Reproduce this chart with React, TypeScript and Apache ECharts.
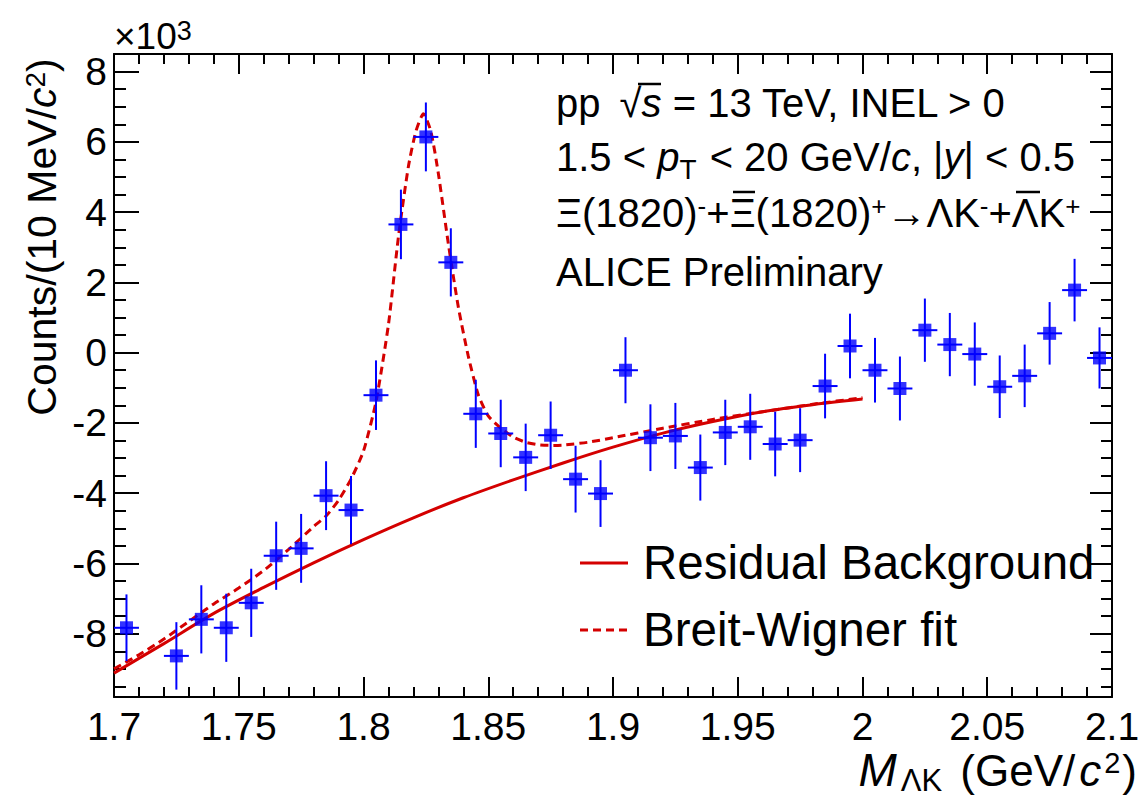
import React, { useEffect, useRef } from "react";
import * as echarts from "echarts";

// ---- data ----
const binCenters = [
  1.705, 1.725, 1.735, 1.745, 1.755, 1.765, 1.775, 1.785, 1.795, 1.805,
  1.815, 1.825, 1.835, 1.845, 1.855, 1.865, 1.875, 1.885, 1.895, 1.905,
  1.915, 1.925, 1.935, 1.945, 1.955, 1.965, 1.975, 1.985, 1.995, 2.005,
  2.015, 2.025, 2.035, 2.045, 2.055, 2.065, 2.075, 2.085, 2.095,
];
const counts = [
  -7.83, -8.63, -7.59, -7.83, -7.12, -5.78, -5.57, -4.07, -4.48, -1.21,
  3.65, 6.14, 2.57, -1.74, -2.3, -2.98, -2.35, -3.6, -4.01, -0.5,
  -2.42, -2.37, -3.27, -2.27, -2.11, -2.6, -2.49, -0.95, 0.19, -0.5,
  -1.02, 0.64, 0.23, -0.04, -0.97, -0.66, 0.55, 1.78, -0.15,
];
const countErrors = [
  0.95, 0.96, 0.97, 0.97, 0.97, 0.97, 0.98, 0.98, 0.97, 0.99,
  0.99, 0.98, 0.97, 0.97, 0.96, 0.96, 0.96, 0.95, 0.95, 0.94,
  0.95, 0.94, 0.94, 0.93, 0.94, 0.92, 0.91, 0.92, 0.92, 0.92,
  0.91, 0.9, 0.9, 0.9, 0.89, 0.89, 0.89, 0.89, 0.87,
];
const binHalfWidth = 0.005;

const bgX = [1.7, 1.72, 1.74, 1.76, 1.78, 1.8, 1.82, 1.84, 1.86, 1.88, 1.9, 1.92, 1.94, 1.96, 1.98, 2.0];
const bgY = [-9.12, -8.28, -7.42, -6.68, -5.98, -5.32, -4.7, -4.13, -3.62, -3.14, -2.69, -2.29, -1.96, -1.68, -1.48, -1.32];

const bwX = [
  1.7, 1.71, 1.72, 1.73, 1.74, 1.75, 1.76, 1.77, 1.78, 1.785, 1.79, 1.795, 1.8,
  1.805, 1.81, 1.814, 1.818, 1.821, 1.824, 1.827, 1.83, 1.834, 1.838, 1.842,
  1.846, 1.85, 1.855, 1.86, 1.865, 1.87, 1.875, 1.88, 1.89, 1.9, 1.92, 1.94,
  1.96, 1.98, 2.0,
];
const bwY = [
  -9.0, -8.6, -8.15, -7.65, -7.15, -6.7, -6.2, -5.6, -4.95, -4.65, -4.2, -3.6, -2.8,
  -1.4, 0.8, 3.3, 5.3, 6.3, 6.8, 6.3, 5.1, 3.1, 1.3, -0.1,
  -1.2, -1.8, -2.15, -2.4, -2.55, -2.62, -2.64, -2.63, -2.55, -2.42, -2.15, -1.9,
  -1.68, -1.47, -1.28,
];

const yMajorTicks = [-8, -6, -4, -2, 0, 2, 4, 6, 8];
const yMinorTicks = [
  -9.5, -9, -8.5, -7.5, -7, -6.5, -5.5, -5, -4.5, -3.5, -3, -2.5, -1.5, -1, -0.5,
  0.5, 1, 1.5, 2.5, 3, 3.5, 4.5, 5, 5.5, 6.5, 7, 7.5, 8.5,
];
const xMin = 1.7;
const xMax = 2.1;
const xStep = 0.05;
const yMin = -9.8;
const yMax = 8.5;

const FONT = "'Liberation Sans', Arial, Helvetica, sans-serif";
const RED = "#d40000";
const BLUE = "#0000ff";

export default function App() {
  const ref = useRef<HTMLDivElement>(null);
  useEffect(() => {
    document.body.style.margin = "0";
    const chart = echarts.init(ref.current!, null, { renderer: "svg" });
    const axisLine = { show: true, onZero: false, lineStyle: { color: "#000", width: 2 } };
    const yAxisBase = (pos: string, ticks: number[], len: number, labels: boolean, line: boolean) => ({
      type: "value",
      position: pos,
      min: yMin,
      max: yMax,
      axisLine: line ? axisLine : { show: false, onZero: false },
      splitLine: { show: false },
      axisTick: { show: true, inside: true, length: len, customValues: ticks, lineStyle: { color: "#000", width: 2 } },
      axisLabel: labels
        ? { show: true, customValues: yMajorTicks, fontSize: 39, fontFamily: FONT, color: "#000", margin: 7 }
        : { show: false },
    });
    const xAxisBase = (pos: string, labels: boolean) => ({
      type: "value",
      position: pos,
      min: xMin,
      max: xMax,
      interval: xStep,
      axisLine,
      splitLine: { show: false },
      axisTick: { show: true, inside: true, length: 20, lineStyle: { color: "#000", width: 2 } },
      minorTick: { show: true, splitNumber: 5, length: 10, lineStyle: { color: "#000", width: 2 } },
      minorSplitLine: { show: false },
      axisLabel: labels
        ? { show: true, fontSize: 39, fontFamily: FONT, color: "#000", margin: 10, showMinLabel: true, showMaxLabel: true }
        : { show: false },
    });
    const points = binCenters.map((x, i) => [x, counts[i]]);
    const errs = binCenters.map((x, i) => [x, counts[i], countErrors[i]]);
    const T = 40; // annotation font size
    const bar = (x1: number, x2: number, y: number) => ({
      type: "line",
      shape: { x1, y1: y, x2, y2: y },
      style: { stroke: "#000", lineWidth: 2.5 },
    });
    chart.setOption({
      animation: false,
      grid: { left: 114, top: 54, width: 998, height: 643, containLabel: false },
      xAxis: [xAxisBase("bottom", true), xAxisBase("top", false)],
      yAxis: [
        yAxisBase("left", yMajorTicks, 25, true, true),
        yAxisBase("right", yMajorTicks, 22, false, true),
        yAxisBase("left", yMinorTicks, 12, false, false),
        yAxisBase("right", yMinorTicks, 11, false, false),
      ],
      series: [
        {
          type: "line",
          name: "Residual Background",
          data: bgX.map((x, i) => [x, bgY[i]]),
          showSymbol: false,
          smooth: 0.3,
          lineStyle: { color: RED, width: 3 },
          z: 3,
        },
        {
          type: "line",
          name: "Breit-Wigner fit",
          data: bwX.map((x, i) => [x, bwY[i]]),
          showSymbol: false,
          smooth: 0.2,
          lineStyle: { color: RED, width: 3, type: [8, 5] },
          z: 3,
        },
        {
          type: "custom",
          name: "errors",
          data: errs,
          encode: { x: 0, y: 1 },
          z: 4,
          renderItem: (params: any, api: any) => {
            const x = api.value(0);
            const y = api.value(1);
            const e = api.value(2);
            const lo = api.coord([x, y - e]);
            const hi = api.coord([x, y + e]);
            const l = api.coord([x - binHalfWidth, y]);
            const r = api.coord([x + binHalfWidth, y]);
            return {
              type: "group",
              children: [
                { type: "line", shape: { x1: lo[0], y1: lo[1], x2: hi[0], y2: hi[1] }, style: { stroke: BLUE, lineWidth: 2 } },
                { type: "line", shape: { x1: l[0], y1: l[1], x2: r[0], y2: r[1] }, style: { stroke: BLUE, lineWidth: 2 } },
              ],
            };
          },
        },
        {
          type: "scatter",
          name: "data",
          data: points,
          symbol: "rect",
          symbolSize: 13,
          itemStyle: { color: BLUE },
          z: 5,
        },
      ],
      graphic: [
        {
          type: "text",
          x: 114,
          y: 36,
          style: {
            text: "×10{sup|3}",
            fontSize: 37,
            fontFamily: FONT,
            fill: "#000",
            verticalAlign: "middle",
            rich: { sup: { fontSize: 27, fontFamily: FONT, verticalAlign: "top" } },
          },
        },
        {
          type: "text",
          x: 42,
          y: 237,
          rotation: Math.PI / 2,
          style: {
            text: "Counts/(10 MeV/{it|c}{sup|2})",
            fontSize: 41,
            fontFamily: FONT,
            fill: "#000",
            align: "center",
            verticalAlign: "middle",
            rich: {
              it: { fontSize: 41, fontFamily: FONT, fontStyle: "italic" },
              sup: { fontSize: 28, fontFamily: FONT, verticalAlign: "top" },
            },
          },
        },
        {
          type: "text",
          x: 1137,
          y: 770,
          style: {
            text: "{it|M}{sub|ΛK} (GeV/{ic|c}{sup|2})",
            fontSize: 44,
            fontFamily: FONT,
            fill: "#000",
            align: "right",
            verticalAlign: "middle",
            rich: {
              it: { fontSize: 46, fontFamily: FONT, fontStyle: "italic" },
              ic: { fontSize: 44, fontFamily: FONT, fontStyle: "italic", padding: [0, 3, 0, 4] },
              sub: { fontSize: 31, fontFamily: FONT, verticalAlign: "bottom", padding: [20, 6, 0, 4] },
              sup: { fontSize: 29, fontFamily: FONT, verticalAlign: "top", padding: [4, 2, 0, 0] },
            },
          },
        },
        {
          type: "text",
          x: 556,
          y: 103,
          style: {
            text: "pp {rt|√}{it|s} = 13 TeV, INEL > 0",
            fontSize: T,
            fontFamily: FONT,
            fill: "#000",
            verticalAlign: "middle",
            rich: {
              it: { fontSize: T, fontFamily: FONT, fontStyle: "italic" },
              rt: { fontSize: T, fontFamily: FONT, padding: [0, 0, 0, 8] },
            },
          },
        },
        {
          type: "text",
          x: 556,
          y: 157,
          style: {
            text: "1.5 < {it|p}{sub|T} < 20 GeV/{it|c}, |{it|y}| < 0.5",
            fontSize: T,
            fontFamily: FONT,
            fill: "#000",
            verticalAlign: "middle",
            rich: {
              it: { fontSize: T, fontFamily: FONT, fontStyle: "italic" },
              sub: { fontSize: 28, fontFamily: FONT, verticalAlign: "bottom", padding: [24, 2, 0, 0] },
            },
          },
        },
        {
          type: "text",
          x: 556,
          y: 213,
          style: {
            text: "Ξ(1820){sup|-}+Ξ(1820){sup|+}→ΛK{sup|-}+ΛK{sup|+}",
            fontSize: T,
            fontFamily: FONT,
            fill: "#000",
            verticalAlign: "middle",
            rich: { sup: { fontSize: 26, fontFamily: FONT, verticalAlign: "top" } },
          },
        },
        bar(733, 755, 192),
        bar(1016, 1040, 192),
        bar(638, 661, 84),
        {
          type: "text",
          x: 556,
          y: 272,
          style: { text: "ALICE Preliminary", fontSize: T, fontFamily: FONT, fill: "#000", verticalAlign: "middle" },
        },
        { type: "line", shape: { x1: 580, y1: 563, x2: 628, y2: 563 }, style: { stroke: RED, lineWidth: 3 } },
        { type: "line", shape: { x1: 580, y1: 630, x2: 628, y2: 630 }, style: { stroke: RED, lineWidth: 3, lineDash: [8, 5] } },
        {
          type: "text",
          x: 643,
          y: 562,
          style: { text: "Residual Background", fontSize: 47.5, fontFamily: FONT, fill: "#000", verticalAlign: "middle" },
        },
        {
          type: "text",
          x: 643,
          y: 629,
          style: { text: "Breit-Wigner fit", fontSize: 47.5, fontFamily: FONT, fill: "#000", verticalAlign: "middle" },
        },
      ],
    });
    return () => chart.dispose();
  }, []);
  return <div ref={ref} style={{ position: "absolute", left: 0, top: 0, width: 1146, height: 797, background: "#fff" }} />;
}
